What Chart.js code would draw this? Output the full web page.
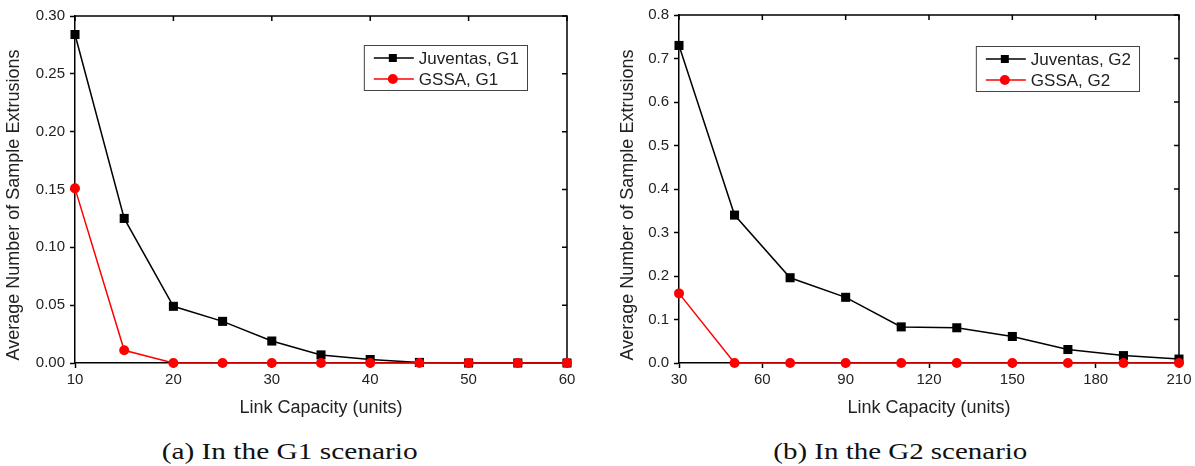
<!DOCTYPE html>
<html><head><meta charset="utf-8">
<script src="https://cdn.jsdelivr.net/npm/chart.js@4.4.1/dist/chart.umd.min.js"></script>
<style>
html,body{margin:0;padding:0;background:#fff;width:1195px;height:466px;overflow:hidden;}
.wrap{position:absolute;top:0;}
#w1{left:0;}
#w2{left:600px;}
.cap{position:absolute;top:439px;font-family:"Liberation Serif","Times New Roman",serif;font-size:24px;line-height:24px;color:#111;white-space:nowrap;transform-origin:center center;}
</style></head><body>
<div class="wrap" id="w1"><canvas id="c1" width="590" height="430"></canvas></div>
<div class="wrap" id="w2"><canvas id="c2" width="595" height="430"></canvas></div>
<div class="cap" id="cap1">(a) In the G1 scenario</div>
<div class="cap" id="cap2">(b) In the G2 scenario</div>
<script>
// ---- data ----
const capacityG1 = [10, 15, 20, 25, 30, 35, 40, 45, 50, 55, 60];
const juventasG1 = [0.284, 0.125, 0.049, 0.036, 0.019, 0.007, 0.003, 0.0005, 0, 0, 0];
const gssaG1     = [0.151, 0.011, 0, 0, 0, 0, 0, 0, 0, 0, 0];
const xTicksG1 = [10, 20, 30, 40, 50, 60];
const yTicksG1 = [0, 0.05, 0.10, 0.15, 0.20, 0.25, 0.30];

const capacityG2 = [30, 50, 70, 90, 110, 130, 150, 170, 190, 210];
const juventasG2 = [0.73, 0.34, 0.196, 0.151, 0.083, 0.081, 0.061, 0.031, 0.017, 0.009];
const gssaG2     = [0.16, 0, 0, 0, 0, 0, 0, 0, 0, 0];
const xTicksG2 = [30, 60, 90, 120, 150, 180, 210];
const yTicksG2 = [0, 0.1, 0.2, 0.3, 0.4, 0.5, 0.6, 0.7, 0.8];

const seriesLabelsG1 = ['Juventas, G1', 'GSSA, G1'];
const seriesLabelsG2 = ['Juventas, G2', 'GSSA, G2'];
const xTitle = 'Link Capacity (units)';
const yTitle = 'Average Number of Sample Extrusions';

const SANS = '"Liberation Sans", Arial, sans-serif';
const TXT = '#222';

const framePlugin = {
  id: 'frame',
  beforeDatasetsDraw(chart) {
    const ctx = chart.ctx, a = chart.chartArea;
    const xs = chart.scales.x, ys = chart.scales.y;
    ctx.save();
    ctx.strokeStyle = '#000';
    ctx.lineWidth = 1.5;
    ctx.beginPath();
    ctx.moveTo(a.left, a.top); ctx.lineTo(a.right, a.top); ctx.lineTo(a.right, a.bottom);
    ctx.stroke();
    ctx.beginPath();
    xs.ticks.forEach(t => {
      const px = xs.getPixelForValue(t.value);
      ctx.moveTo(px, a.top); ctx.lineTo(px, a.top + 5);
    });
    ys.ticks.forEach(t => {
      const py = ys.getPixelForValue(t.value);
      ctx.moveTo(a.right, py); ctx.lineTo(a.right - 5, py);
    });
    ctx.stroke();
    ctx.restore();
  }
};

const yTitlePlugin = {
  id: 'yTitle',
  afterDraw(chart, args, opts) {
    const ctx = chart.ctx;
    ctx.save();
    ctx.translate(opts.x, opts.y);
    ctx.rotate(-Math.PI / 2);
    ctx.font = '18px ' + SANS;
    ctx.fillStyle = TXT;
    ctx.textAlign = 'center';
    ctx.textBaseline = 'middle';
    ctx.fillText(opts.text, 0, 0);
    ctx.restore();
  }
};

const legendPlugin = {
  id: 'boxLegend',
  afterDraw(chart, args, opts) {
    const ctx = chart.ctx, a = chart.chartArea;
    const ds = chart.data.datasets;
    ctx.save();
    ctx.font = '17px ' + SANS;
    const tw = Math.max(...ds.map(d => ctx.measureText(d.label).width));
    const w = 55 + tw + 8, h = 45;
    const right = a.right - 40, left = right - w, top = a.top + opts.top;
    ctx.fillStyle = '#fff';
    ctx.fillRect(left, top, w, h);
    ctx.strokeStyle = '#444';
    ctx.lineWidth = 1;
    ctx.strokeRect(left + 0.5, top + 0.5, w, h);
    ds.forEach((d, i) => {
      const y = top + 13 + 21 * i;
      ctx.strokeStyle = d.borderColor;
      ctx.lineWidth = 1.5;
      ctx.beginPath(); ctx.moveTo(left + 10, y); ctx.lineTo(left + 50, y); ctx.stroke();
      ctx.fillStyle = d.backgroundColor;
      if (d.pointStyle === 'rect') {
        ctx.fillRect(left + 29 - 4, y - 4, 8, 8);
      } else {
        ctx.beginPath(); ctx.arc(left + 29, y, 5, 0, Math.PI * 2); ctx.fill();
      }
      ctx.fillStyle = TXT;
      ctx.textBaseline = 'middle';
      ctx.textAlign = 'left';
      ctx.fillText(d.label, left + 55, y + 1);
    });
    ctx.restore();
  }
};

function makeChart(id, xs, juv, gssa, labels, xTicks, yTicks, cfg) {
  return new Chart(document.getElementById(id), {
    type: 'line',
    data: {
      datasets: [
        { label: labels[0], data: xs.map((x, i) => ({ x: x, y: juv[i] })),
          borderColor: '#000', backgroundColor: '#000', borderWidth: 1.5,
          pointStyle: 'rect', pointRadius: 6.4, pointBorderWidth: 0, order: 1, clip: false },
        { label: labels[1], data: xs.map((x, i) => ({ x: x, y: gssa[i] })),
          borderColor: '#ff0000', backgroundColor: '#ff0000', borderWidth: 1.5,
          pointStyle: 'circle', pointRadius: 5, pointBorderWidth: 0, order: 0, clip: false }
      ]
    },
    options: {
      responsive: false, animation: false, events: [],
      layout: { padding: { left: 0, top: cfg.top, right: cfg.right, bottom: 0 } },
      plugins: {
        legend: { display: false }, tooltip: { enabled: false },
        boxLegend: { top: cfg.legTop },
        yTitle: { text: yTitle, x: cfg.titleX, y: 205 }
      },
      scales: {
        x: {
          type: 'linear', min: xTicks[0], max: xTicks[xTicks.length - 1],
          afterBuildTicks: s => { s.ticks = xTicks.map(v => ({ value: v })); },
          afterFit: s => { s.height = 67; },
          ticks: { font: { size: 15, family: SANS }, color: TXT, padding: 3, maxRotation: 0, autoSkip: false },
          grid: { drawOnChartArea: false, tickLength: 5, tickWidth: 1.5, tickColor: '#000' },
          border: { color: '#000', width: 1.5 },
          title: { display: true, text: xTitle, font: { size: 18, family: SANS }, color: TXT, padding: { top: 0, bottom: 11 } }
        },
        y: {
          type: 'linear', min: yTicks[0], max: yTicks[yTicks.length - 1],
          afterBuildTicks: s => { s.ticks = yTicks.map(v => ({ value: v })); },
          afterFit: s => { s.width = cfg.yw; },
          ticks: { font: { size: 15, family: SANS }, color: TXT, padding: 5, autoSkip: false,
                   callback: v => Number(v).toFixed(cfg.dec) },
          grid: { drawOnChartArea: false, tickLength: 5, tickWidth: 1.5, tickColor: '#000' },
          border: { color: '#000', width: 1.5 },
          title: { display: false }
        }
      }
    },
    plugins: [framePlugin, legendPlugin, yTitlePlugin]
  });
}

makeChart('c1', capacityG1, juventasG1, gssaG1, seriesLabelsG1, xTicksG1, yTicksG1,
  { top: 16, right: 23, yw: 75, dec: 2, titleX: 14, legTop: 29 });
makeChart('c2', capacityG2, juventasG2, gssaG2, seriesLabelsG2, xTicksG2, yTicksG2,
  { top: 15, right: 16, yw: 79, dec: 1, titleX: 28, legTop: 31 });

function placeCap(id, cx, target) {
  const el = document.getElementById(id);
  const w = el.getBoundingClientRect().width;
  el.style.left = (cx - w / 2) + 'px';
  el.style.transform = 'scaleX(' + (target / w) + ')';
}
placeCap('cap1', 290, 256);
placeCap('cap2', 900, 254);
</script>
</body></html>
